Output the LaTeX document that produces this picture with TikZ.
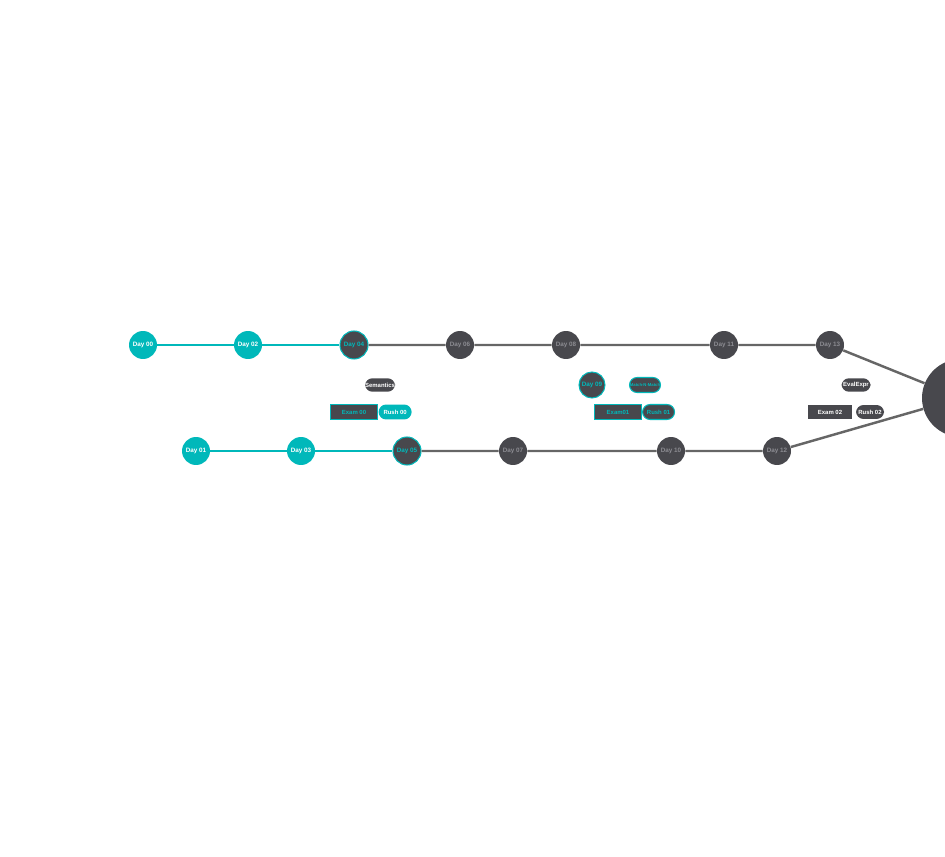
\documentclass[tikz,border=0pt]{standalone}
\usepackage{fontspec}
\setsansfont{Liberation Sans}
\usetikzlibrary{positioning}
\definecolor{tealday}{RGB}{0,184,186}
\definecolor{darkday}{RGB}{72,72,77}
\definecolor{trackgray}{RGB}{102,102,102}
\definecolor{mutedtext}{RGB}{140,140,146}
\tikzset{
    day/.style={circle, minimum size=0.56cm, inner sep=0pt,
        font=\fontsize{3.6}{4}\sffamily\bfseries},
    done/.style={day, fill=tealday, text=white},
    current/.style={day, fill=darkday, draw=tealday, line width=0.6pt, text=tealday},
    todo/.style={day, fill=darkday, text=mutedtext},
    task/.style={inner sep=0pt, minimum height=0.3cm,
        font=\fontsize{3.4}{4}\sffamily\bfseries},
    pill/.style={task, rounded corners=0.15cm},
    track/.style={line width=1.4pt, draw=trackgray},
    donetrack/.style={line width=1.4pt, draw=tealday}
}

\begin{document}
\begin{tikzpicture}[x=0.02cm, y=-0.02cm]
    \useasboundingbox (0, 0) rectangle (945, 857);
    \clip (0, 0) rectangle (945, 857);

    % final goal
    \node[circle, fill=darkday, minimum size=1.56cm, inner sep=0pt] (goal) at (961, 398) {};

    % even days
    \node[done] (d00) at (143, 345) {Day 00};
    \node[done] (d02) at (248, 345) {Day 02};
    \node[current] (d04) at (354, 345) {Day 04};
    \node[todo] (d06) at (460, 345) {Day 06};
    \node[todo] (d08) at (566, 345) {Day 08};
    \node[todo] (d11) at (724, 345) {Day 11};
    \node[todo] (d13) at (830, 345) {Day 13};

    % odd days
    \node[done] (d01) at (196, 451) {Day 01};
    \node[done] (d03) at (301, 451) {Day 03};
    \node[current] (d05) at (407, 451) {Day 05};
    \node[todo] (d07) at (513, 451) {Day 07};
    \node[todo] (d10) at (671, 451) {Day 10};
    \node[todo] (d12) at (777, 451) {Day 12};

    \draw[donetrack] (d00) -- (d02) (d02) -- (d04);
    \draw[track] (d04) -- (d06) (d06) -- (d08) (d08) -- (d11) (d11) -- (d13) (d13) -- (goal);
    \draw[donetrack] (d01) -- (d03) (d03) -- (d05);
    \draw[track] (d05) -- (d07) (d07) -- (d10) (d10) -- (d12) (d12) -- (goal);

    % milestones
    \node[pill, fill=darkday, text=white, minimum width=0.6cm, minimum height=0.27cm] (sem) at (380, 385) {Semantics};
    \node[task, fill=darkday, draw=tealday, line width=0.6pt, text=tealday, minimum width=0.95cm] (ex0) at (354, 412) {Exam 00};
    \node[pill, fill=tealday, text=white, minimum width=0.66cm, right=0pt of ex0] (ru0) {Rush 00};

    \node[day, fill=darkday, draw=tealday, line width=0.6pt, text=tealday, minimum size=0.52cm] (d09) at (592, 385) {Day 09};
    \node[pill, fill=darkday, draw=tealday, line width=0.6pt, text=tealday, minimum width=0.62cm,
        font=\fontsize{2.4}{3}\sffamily\bfseries] (mnm) at (645, 385) {Match-N-Match};
    \node[task, fill=darkday, draw=tealday, line width=0.6pt, text=tealday, minimum width=0.94cm] (ex1) at (618, 412) {Exam01};
    \node[pill, fill=darkday, draw=tealday, line width=0.6pt, text=tealday, minimum width=0.64cm, right=0pt of ex1] (ru1) {Rush 01};

    \node[pill, fill=darkday, text=white, minimum width=0.58cm, minimum height=0.27cm] (eval) at (856, 385) {EvalExpr};
    \node[task, fill=darkday, text=white, minimum width=0.88cm, minimum height=0.28cm] (ex2) at (830, 412) {Exam 02};
    \node[pill, fill=darkday, text=white, minimum width=0.56cm, minimum height=0.28cm] (ru2) at (870, 412) {Rush 02};
\end{tikzpicture}
\end{document}
